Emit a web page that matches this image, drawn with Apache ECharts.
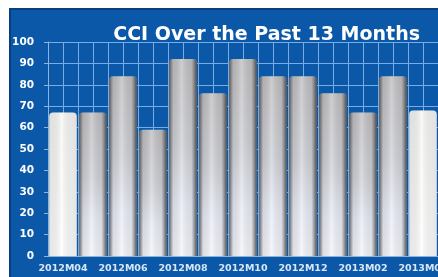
<!DOCTYPE html>
<html>
<head>
<meta charset="utf-8">
<title>CCI</title>
<script src="https://cdn.jsdelivr.net/npm/echarts@6/dist/echarts.min.js"></script>
<style>
  html, body { margin: 0; padding: 0; background: #fff; }
  #main { width: 438px; height: 277px; }
</style>
</head>
<body>
<div id="main"></div>
<script>
// data
var months = ['2012M04', '2012M05', '2012M06', '2012M07', '2012M08', '2012M09', '2012M10',
              '2012M11', '2012M12', '2013M01', '2013M02', '2013M03', '2013M04'];
var cci = [67, 67, 84, 59, 92, 76, 92, 84, 84, 76, 67, 84, 68];
var yTicks = [0, 10, 20, 30, 40, 50, 60, 70, 80, 90, 100];

var chart = echarts.init(document.getElementById('main'));
var font = 'DejaVu Sans, Verdana, sans-serif';

// silver bars, first and last are white
var barData = cci.map(function (v, i) {
  var white = (i === 0 || i === cci.length - 1);
  return {
    value: v,
    itemStyle: {
      color: white ? new echarts.graphic.LinearGradient(0, 0, 0, 1, [
        { offset: 0, color: '#f6f6f4' },
        { offset: 1, color: '#ffffff' }
      ]) : new echarts.graphic.LinearGradient(0, 0, 0, 1, [
        { offset: 0, color: '#bdbdc0' },
        { offset: 0.45, color: '#cfd0d6' },
        { offset: 0.75, color: '#e8ebf6' },
        { offset: 1, color: '#f4f5fa' }
      ])
    }
  };
});

// dark edges to give the cylinder look
var shadeData = cci.map(function (v, i) {
  var white = (i === 0 || i === cci.length - 1);
  return {
    value: v,
    itemStyle: {
      color: new echarts.graphic.LinearGradient(0, 0, 1, 0, [
        { offset: 0, color: white ? 'rgba(60,60,60,0.12)' : 'rgba(50,50,50,0.75)' },
        { offset: 0.15, color: 'rgba(80,80,80,0.12)' },
        { offset: 0.45, color: 'rgba(255,255,255,0.25)' },
        { offset: 0.8, color: 'rgba(80,80,80,0.1)' },
        { offset: 1, color: white ? 'rgba(60,60,60,0.12)' : 'rgba(40,40,40,0.8)' }
      ])
    }
  };
});

var option = {
  animation: false,
  backgroundColor: '#ffffff',
  graphic: [{
    type: 'rect',
    z: -10,
    shape: { x: 10, y: 9, width: 460, height: 300 },
    style: { fill: '#0b58a8', stroke: '#083f7c', lineWidth: 2 }
  }],
  title: {
    text: 'CCI Over the Past 13 Months',
    right: 13,
    top: 21,
    textStyle: {
      color: '#ffffff',
      fontFamily: font,
      fontWeight: 'bold',
      fontSize: 19
    }
  },
  grid: { left: 48, right: 0, top: 42, bottom: 21, outerBoundsMode: 'none' },
  xAxis: [{
    type: 'category',
    data: months,
    axisTick: { show: false },
    axisLine: { lineStyle: { color: '#8fb4dc', width: 1 } },
    axisLabel: {
      interval: 1,
      color: '#d8e6f6',
      fontFamily: font,
      fontWeight: 'bold',
      fontSize: 9.5,
      margin: 8,
      hideOverlap: false
    },
    splitLine: { show: false }
  }, {
    // half-category vertical grid
    type: 'value',
    min: 0,
    max: months.length * 2,
    interval: 1,
    position: 'bottom',
    axisLine: { show: false },
    axisTick: { show: false },
    axisLabel: { show: false },
    splitLine: { show: true, lineStyle: { color: '#78ace4', width: 1 } }
  }],
  yAxis: {
    type: 'value',
    min: yTicks[0],
    max: yTicks[yTicks.length - 1],
    interval: 10,
    axisLine: { show: true, lineStyle: { color: '#8fb4dc' } },
    axisTick: { show: true, length: 4, lineStyle: { color: '#8fb4dc' } },
    axisLabel: {
      color: '#ffffff',
      fontFamily: font,
      fontWeight: 'bold',
      fontSize: 10.5,
      margin: 14
    },
    splitLine: { show: true, lineStyle: { color: '#78ace4', width: 1 } }
  },
  series: [{
    type: 'bar',
    xAxisIndex: 0,
    data: barData,
    barCategoryGap: '8%',
    itemStyle: { borderRadius: [4, 4, 0, 0] },
    z: 2
  }, {
    type: 'bar',
    xAxisIndex: 0,
    data: shadeData,
    barGap: '-100%',
    barCategoryGap: '8%',
    itemStyle: { borderRadius: [4, 4, 0, 0] },
    silent: true,
    z: 3
  }]
};

chart.setOption(option);
</script>
</body>
</html>
